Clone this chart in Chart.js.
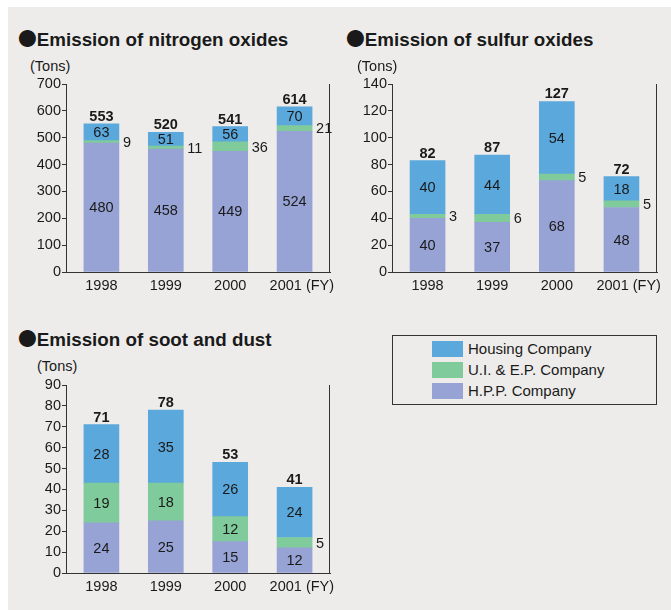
<!DOCTYPE html>
<html>
<head>
<meta charset="utf-8">
<script src="https://cdn.jsdelivr.net/npm/chart.js@4.4.1/dist/chart.umd.min.js"></script>
<style>
  html, body { margin: 0; padding: 0; background: #fff; }
  body { width: 671px; height: 610px; position: relative; overflow: hidden;
         font-family: "Liberation Sans", Arial, sans-serif; color: #1a1a1a; }
  #panel { position: absolute; left: 8px; top: 7px; right: 0; bottom: 0; background: #edecea; }
  .title { position: absolute; font-weight: bold; font-size: 18.8px; line-height: 22px; white-space: nowrap; }
  .title .dot { font-family: "Noto Sans CJK JP", "DejaVu Sans", sans-serif; font-weight: normal; line-height: 0; }
  .unit { position: absolute; font-size: 14.5px; line-height: 17px; white-space: nowrap; }
  .chart-box { position: absolute; }
  #legend { position: absolute; left: 392px; top: 335px; width: 263px; height: 66px;
            border: 1px solid #333; padding-top: 2px; box-sizing: content-box; }
  #legend .row { display: flex; align-items: center; height: 21px; }
  #legend .sw { width: 31px; height: 16px; margin-left: 39px; }
  #legend .lbl { margin-left: 5px; font-size: 15px; line-height: 21px; white-space: nowrap; }
</style>
</head>
<body>
<div id="panel"></div>

<div class="title" style="left:18px; top:29px;"><span class="dot">●</span>Emission of nitrogen oxides</div>
<div class="unit" style="left:30px; top:58px;">(Tons)</div>
<div class="chart-box" style="left:0; top:70px;"><canvas id="nox-chart" width="345" height="230"></canvas></div>

<div class="title" style="left:346px; top:29px;"><span class="dot">●</span>Emission of sulfur oxides</div>
<div class="unit" style="left:357px; top:58px;">(Tons)</div>
<div class="chart-box" style="left:335px; top:70px;"><canvas id="sox-chart" width="336" height="230"></canvas></div>

<div class="title" style="left:18px; top:329px;"><span class="dot">●</span>Emission of soot and dust</div>
<div class="unit" style="left:37px; top:358px;">(Tons)</div>
<div class="chart-box" style="left:0; top:370px;"><canvas id="dust-chart" width="345" height="235"></canvas></div>

<div id="legend"></div>

<script>
// Años fiscales
const years = ['1998', '1999', '2000', '2001'];
const yearUnit = '(FY)';

// Series (de abajo hacia arriba en cada barra)
const seriesNames = ['H.P.P. Company', 'U.I. & E.P. Company', 'Housing Company'];
const seriesColors = ['#98a3d5', '#7fcb9b', '#5ba8dc'];

// Óxidos de nitrógeno
const noxHpp = [480, 458, 449, 524];
const noxUiep = [9, 11, 36, 21];
const noxHousing = [63, 51, 56, 70];
const noxTotal = [553, 520, 541, 614];
const noxTicks = [0, 100, 200, 300, 400, 500, 600, 700];

// Óxidos de azufre
const soxHpp = [40, 37, 68, 48];
const soxUiep = [3, 6, 5, 5];
const soxHousing = [40, 44, 54, 18];
const soxTotal = [82, 87, 127, 72];
const soxTicks = [0, 20, 40, 60, 80, 100, 120, 140];

// Hollín y polvo
const dustHpp = [24, 25, 15, 12];
const dustUiep = [19, 18, 12, 5];
const dustHousing = [28, 35, 26, 24];
const dustTotal = [71, 78, 53, 41];
const dustTicks = [0, 10, 20, 30, 40, 50, 60, 70, 80, 90];

const FONT = '"Liberation Sans", Arial, sans-serif';
const TEXT = '#1a1a1a';
const AXIS = '#333';

// Etiqueta del eje X: el último año lleva "(FY)" (los espacios iniciales la desplazan a la derecha)
function yearLabel(value) {
  if (value === years.length - 1) {
    return '\u2002\u2002' + years[value] + ' ' + yearUnit;
  }
  return years[value] || '';
}

// Etiquetas de valores: dentro del segmento, a la derecha si es muy fino, y total arriba
const valueLabels = {
  id: 'valueLabels',
  afterDatasetsDraw(chart) {
    const ctx = chart.ctx;
    const totals = chart.options.plugins.valueLabels.totals;
    ctx.save();
    ctx.fillStyle = TEXT;
    ctx.font = '14.5px ' + FONT;
    ctx.textBaseline = 'middle';

    chart.data.datasets.forEach((ds, i) => {
      chart.getDatasetMeta(i).data.forEach((bar, j) => {
        const h = bar.base - bar.y;
        const cy = (bar.y + bar.base) / 2;
        const v = ds.data[j].y;
        if (h >= 12) {
          ctx.textAlign = 'center';
          ctx.fillText(v, bar.x, cy + 1);
        } else {
          ctx.textAlign = 'left';
          ctx.fillText(v, bar.x + bar.width / 2 + 4, cy + 1);
        }
      });
    });

    // Totales en negrita
    const top = chart.getDatasetMeta(chart.data.datasets.length - 1).data;
    ctx.font = 'bold 14.5px ' + FONT;
    ctx.textAlign = 'center';
    ctx.textBaseline = 'alphabetic';
    top.forEach((bar, j) => {
      ctx.fillText(totals[j], bar.x, bar.y - 3);
    });
    ctx.restore();
  },
  afterDraw(chart) {
    // Marco derecho del área del gráfico
    const a = chart.chartArea;
    const ctx = chart.ctx;
    const x = Math.round(a.right) - 0.5;
    ctx.save();
    ctx.strokeStyle = AXIS;
    ctx.lineWidth = 1;
    ctx.beginPath();
    ctx.moveTo(x, Math.round(a.top));
    ctx.lineTo(x, Math.round(a.bottom));
    ctx.stroke();
    ctx.restore();
  }
};

function makeChart(canvasId, hpp, uiep, housing, totals, ticks, axisWidth, axisHeight, padTop, padRight) {
  const el = document.getElementById(canvasId);
  if (!el) return;
  const ctx = el.getContext('2d');
  const series = [hpp, uiep, housing];

  return new Chart(ctx, {
    type: 'bar',
    data: {
      datasets: series.map((vals, i) => ({
        label: seriesNames[i],
        data: vals.map((v, j) => ({ x: j, y: v })),
        backgroundColor: seriesColors[i],
        borderWidth: 0,
        barThickness: 35
      }))
    },
    options: {
      responsive: false,
      animation: false,
      layout: { padding: { top: padTop, right: padRight, left: 0, bottom: 0 } },
      plugins: {
        legend: { display: false },
        tooltip: { enabled: false },
        valueLabels: { totals: totals }
      },
      scales: {
        x: {
          type: 'linear',
          stacked: true,
          offset: false,
          min: -0.55,
          max: years.length - 0.45,
          grid: { display: false, drawTicks: false },
          border: { color: AXIS, width: 1 },
          ticks: {
            stepSize: 1,
            includeBounds: false,
            autoSkip: false,
            maxRotation: 0,
            padding: 5,
            color: TEXT,
            font: { family: FONT, size: 14.5 },
            callback: yearLabel
          },
          afterFit: scale => { scale.height = axisHeight; }
        },
        y: {
          stacked: true,
          min: ticks[0],
          max: ticks[ticks.length - 1],
          afterBuildTicks: scale => { scale.ticks = ticks.map(v => ({ value: v })); },
          grid: { drawOnChartArea: false, drawTicks: true, tickLength: 4, color: AXIS },
          border: { color: AXIS, width: 1 },
          ticks: {
            padding: 1,
            color: TEXT,
            font: { family: FONT, size: 14.5 }
          },
          afterFit: scale => { scale.width = axisWidth; }
        }
      }
    },
    plugins: [valueLabels]
  });
}

document.addEventListener('DOMContentLoaded', function() {
  makeChart('nox-chart', noxHpp, noxUiep, noxHousing, noxTotal, noxTicks, 66, 28, 14, 15);
  makeChart('sox-chart', soxHpp, soxUiep, soxHousing, soxTotal, soxTicks, 57, 28, 14, 14);
  makeChart('dust-chart', dustHpp, dustUiep, dustHousing, dustTotal, dustTicks, 66, 32, 15, 15);

  // Leyenda compartida (orden: de arriba hacia abajo)
  const legendEl = document.getElementById('legend');
  for (let i = seriesNames.length - 1; i >= 0; i--) {
    const row = document.createElement('div');
    row.className = 'row';
    row.innerHTML = `<span class="sw" style="background:${seriesColors[i]}"></span><span class="lbl">${seriesNames[i]}</span>`;
    legendEl.appendChild(row);
  }
});
</script>
</body>
</html>
